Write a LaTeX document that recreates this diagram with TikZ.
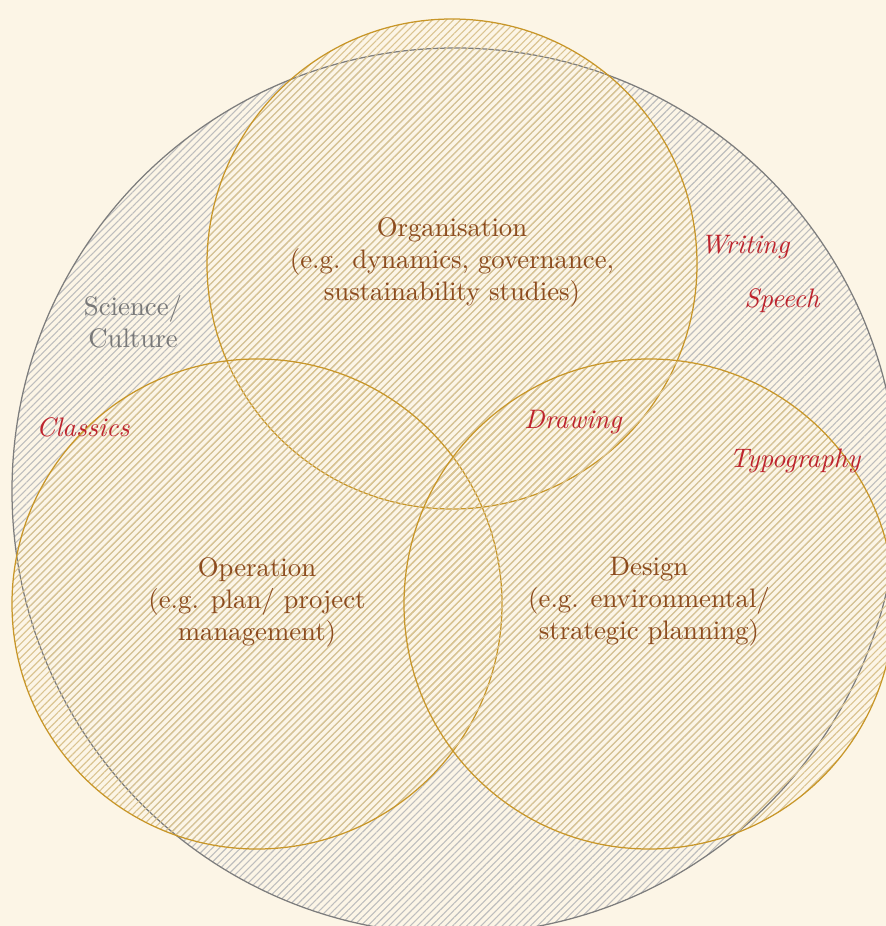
\documentclass[tikz,border=0pt]{standalone}
\usepackage{fontspec}
\usetikzlibrary{patterns.meta}
\definecolor{bg}{RGB}{252,245,230}
\definecolor{goldline}{RGB}{200,150,40}
\definecolor{goldhatch}{RGB}{218,196,145}
\definecolor{grayhatch}{RGB}{190,190,190}
\definecolor{grayline}{RGB}{125,125,125}
\definecolor{txtbrown}{RGB}{140,75,30}
\definecolor{txtred}{RGB}{190,35,45}
\definecolor{txtgray}{RGB}{120,120,120}
\tikzset{
  graycirc/.style={draw=grayline, line width=0.5pt, pattern={Lines[angle=45,distance=2pt,line width=0.45pt]}, pattern color=grayhatch},
  goldcirc/.style={draw=goldline, line width=0.5pt, pattern={Lines[angle=45,distance=2pt,line width=0.45pt]}, pattern color=goldhatch},
  maintext/.style={text=txtbrown, align=center, font=\fontsize{10.7}{12.8}\selectfont},
  sidetext/.style={text=txtgray, align=center, font=\fontsize{10.7}{12.8}\selectfont},
  redtext/.style={text=txtred, font=\fontsize{10.7}{12.8}\selectfont\itshape},
}
\begin{document}
\begin{tikzpicture}[x=0.4pt,y=-0.4pt]
\fill[bg] (0,0) rectangle (886,926);
\useasboundingbox (0,0) rectangle (886,926);
\begin{scope}
\clip (0,0) rectangle (886,926);
\path[graycirc] (455,491) circle [radius=177.2pt];
\path[goldcirc] (452,264) circle [radius=98pt];
\path[goldcirc] (257,604) circle [radius=98pt];
\path[goldcirc] (649,604) circle [radius=98pt];
\end{scope}
\node[maintext] (org) at (452,262) {Organisation\\(e.g. dynamics, governance,\\sustainability studies)};
\node[maintext] (op) at (257,602) {Operation\\(e.g. plan/ project\\management)};
\node[maintext] (des) at (649,602) {Design\\(e.g. environmental/\\strategic planning)};
\node[sidetext] (sci) at (133,322) {Science/\\Culture};
\node[redtext] (classics) at (83,427) {Classics};
\node[redtext] (writing) at (745,247) {Writing};
\node[redtext] (speech) at (782,301) {Speech};
\node[redtext] (drawing) at (573,422) {Drawing};
\node[redtext] (typo) at (795,461) {Typography};
\end{tikzpicture}
\end{document}
